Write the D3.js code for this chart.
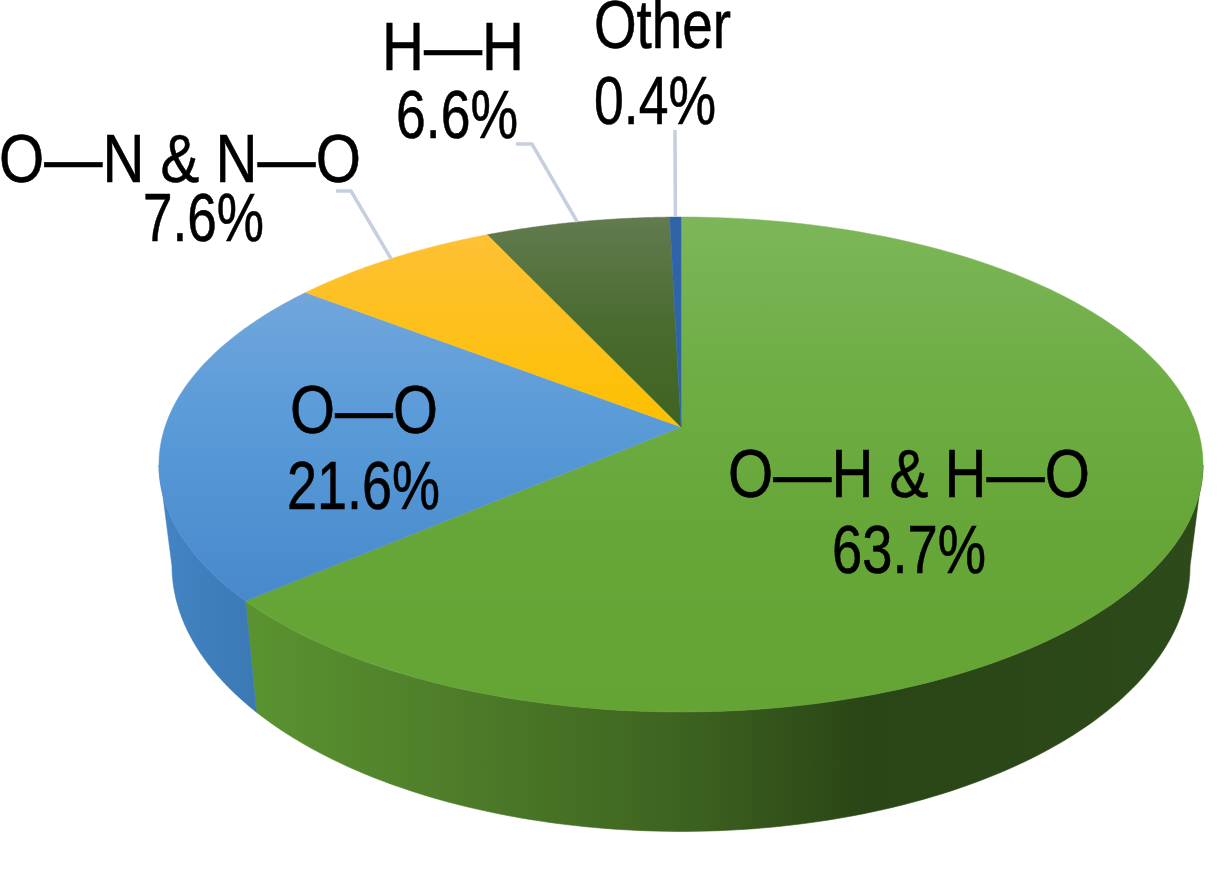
<!DOCTYPE html>
<html><head><meta charset="utf-8">
<script src="https://cdn.jsdelivr.net/npm/d3@7/dist/d3.min.js"></script>
<style>html,body{margin:0;padding:0;background:#fff;overflow:hidden}svg{display:block}text{font-family:"Liberation Sans",Arial,sans-serif;fill:#000;font-size:69px;stroke:#000;stroke-width:0.6px}</style>
</head><body>
<svg id="c" width="1228" height="872"></svg>
<script>
const categories = ["O—H & H—O", "O—O", "O—N & N—O", "H—H", "Other"];
const values = [63.7, 21.6, 7.6, 6.6, 0.4];
const valueLabels = ["63.7%", "21.6%", "7.6%", "6.6%", "0.4%"];

// label layout: name [x0,x1,baseline], value [x0,x1,baseline]
const nameBoxes = [[728,1090,497],[290,438,433],[-1,361,182],[382,524,70],[594,731,48]];
const valueBoxes = [[832,986,573],[287,440,509],[143,264,241],[396,518,138],[594,716,124]];
const leaderStart = [null,null,[336,191,351],[516,144,532],[675,130,675]];

const topFills = [
  [["0","#7db659"],["0.3","#6fae46"],["0.6","#67a739"],["1","#64a434"]],
  [["0","#72a6dc"],["0.4","#5a9bd8"],["1","#4789cc"]],
  [["0","#fdc135"],["1","#fdc000"]],
  [["0","#627b50"],["0.5","#4a6c30"],["1","#3e6320"]],
  [["0","#2f64a8"],["1","#2f64a8"]]
];
const topRanges = [[217,712],[293,600],[236,425],[217,427],[217,427]];

const svg = d3.select("#c");
const defs = svg.append("defs");
function grad(id, x1, y1, x2, y2, stops){
  const g = defs.append("linearGradient").attr("id",id).attr("gradientUnits","userSpaceOnUse")
    .attr("x1",x1).attr("y1",y1).attr("x2",x2).attr("y2",y2);
  stops.forEach(s=>g.append("stop").attr("offset",s[0]).attr("stop-color",s[1]));
}
topFills.forEach((s,i)=>grad("top"+i,0,topRanges[i][0],0,topRanges[i][1],s));
grad("sideG",246,0,1200,0,[["0","#5b9330"],["0.2","#4f7f2a"],["0.45","#3e6420"],["0.65","#2a4516"],["1","#2d4a1a"]]);
grad("sideB",160,0,255,0,[["0","#4384c4"],["1","#3a79b4"]]);

// Perspective disc: apex is the centre of the pie; rim is an ellipse
const cx=681, apexY=427, a=516, b=241.8, k=-0.1515;
const ellCy=465, low={sx:509/522, sy:266/247.5, cy:566};
const proj = (t,r=1)=>{
  const u=Math.sin(t)*r, v=-Math.cos(t)*r, d=1+k*v;
  return [cx+a*u/d, apexY+b*v/d];
};
const lowProj = t=>{
  const p=proj(t);
  return [cx+low.sx*(p[0]-cx), low.cy+low.sy*(p[1]-ellCy)];
};
const pie = d3.pie().sort(null).value(d=>d);
const arcs = pie(values);
const line = d3.line();
const sample = (t0,t1,f)=>d3.range(0,121).map(i=>f(t0+(t1-t0)*i/120));

// visible side limits: the rim's extreme x points
const vx = (ellCy-apexY)/b; const v0 = vx/(1-k*vx);
const tR = Math.acos(-v0), tL = 2*Math.PI-tR;

// sides
const sides=[["sideG",tR,arcs[0].endAngle],["sideB",arcs[0].endAngle,tL]];
sides.forEach(s=>{
  const pts=sample(s[1],s[2],proj).concat(sample(s[1],s[2],lowProj).reverse());
  svg.append("path").attr("d",line(pts)+"Z").attr("fill","url(#"+s[0]+")")
     .attr("stroke","url(#"+s[0]+")").attr("stroke-width",0.6);
});
// top slices
arcs.forEach((d,i)=>{
  const pts=[proj(0,0)].concat(sample(d.startAngle,d.endAngle,proj));
  svg.append("path").attr("d",line(pts)+"Z").attr("fill","url(#top"+i+")")
     .attr("stroke","url(#top"+i+")").attr("stroke-width",0.5);
});
// leaders
arcs.forEach((d,i)=>{
  const s=leaderStart[i]; if(!s) return;
  const end=proj((d.startAngle+d.endAngle)/2);
  svg.append("path").attr("d",line([[s[0],s[1]],[s[2],s[1]],end]))
     .attr("fill","none").attr("stroke","#c6cfe0").attr("stroke-width",3.5);
});
// labels
function label(str,box){
  svg.append("text").attr("x",box[0]).attr("y",box[2])
    .attr("textLength",box[1]-box[0]).attr("lengthAdjust","spacingAndGlyphs").text(str);
}
categories.forEach((c,i)=>{label(c,nameBoxes[i]);label(valueLabels[i],valueBoxes[i]);});
</script>
</body></html>
